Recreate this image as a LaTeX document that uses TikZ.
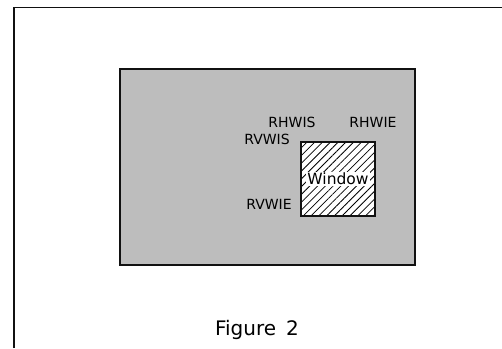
\documentclass[tikz,border=0pt]{standalone}
\usepackage{fontspec}
\setmainfont{DejaVu Sans}
\usetikzlibrary{positioning, patterns.meta}
\definecolor{linea}{HTML}{111111}
\definecolor{trama}{HTML}{BDBDBD}

\begin{document}
\begin{tikzpicture}[x=1pt, y=-1pt, font=\fontsize{14}{16}\selectfont,
	marco/.style={draw=linea, inner sep=0pt},
	rayado/.style={pattern={Lines[angle=45, distance=5.5pt, line width=0.8pt]}, preaction={fill=white}}]
	\useasboundingbox (0,0) rectangle (502,348);
	% page frame
	\draw[linea, line width=1.3pt] (14,348) -- (14,7.5) -- (502,7.5);
	% screen and window
	\node[marco, line width=1.6pt, fill=trama, minimum width=295pt, minimum height=196pt] (pantalla) at (267.5,167) {};
	\node[marco, line width=1.2pt, rayado, minimum size=74pt] (ventana) at (338,179) {};
	\node[fill=white, inner sep=1pt, font=\fontsize{15.5}{18}\selectfont] (rotulo) at (ventana.center) {Window};
	\foreach \n/\x/\y in {RHWIS/292/122, RHWIE/373/122, RVWIS/267/139, RVWIE/269/204} {
		\node[inner sep=0pt] (\n) at (\x,\y) {\n};
	}
	\node[font=\fontsize{20}{24}\selectfont] (titulo) at (257,330) {Figure\hspace{0.5em}2};
\end{tikzpicture}
\end{document}
